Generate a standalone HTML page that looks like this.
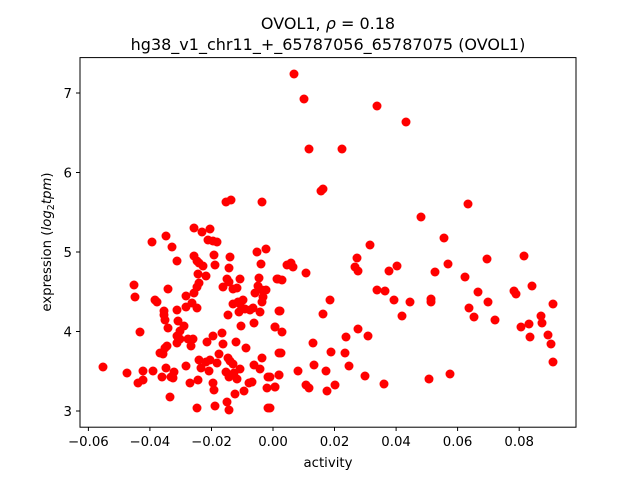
<!DOCTYPE html>
<html><head><style>body{margin:0;background:#fff}svg{display:block}text{font-family:"DejaVu Sans","Liberation Sans",sans-serif;fill:#000}</style></head><body>
<svg width="640" height="480" viewBox="0 0 640 480" xmlns="http://www.w3.org/2000/svg">
<rect width="640" height="480" fill="#fff"/>
<g fill="#f00">
<circle cx="294" cy="74" r="4.5"/><circle cx="304" cy="99" r="4.5"/><circle cx="377" cy="106" r="4.5"/><circle cx="406" cy="122" r="4.5"/><circle cx="309" cy="149" r="4.5"/><circle cx="342" cy="149" r="4.5"/><circle cx="321" cy="191" r="4.5"/><circle cx="323" cy="189" r="4.5"/><circle cx="468" cy="204" r="4.5"/><circle cx="421" cy="217" r="4.5"/><circle cx="444" cy="238" r="4.5"/><circle cx="370" cy="245" r="4.5"/><circle cx="357" cy="258" r="4.5"/><circle cx="355" cy="267" r="4.5"/><circle cx="358" cy="271" r="4.5"/><circle cx="287" cy="265" r="4.5"/><circle cx="291" cy="263" r="4.5"/><circle cx="293" cy="267" r="4.5"/><circle cx="306" cy="273" r="4.5"/><circle cx="389" cy="271" r="4.5"/><circle cx="397" cy="266" r="4.5"/><circle cx="435" cy="272" r="4.5"/><circle cx="448" cy="264" r="4.5"/><circle cx="487" cy="259" r="4.5"/><circle cx="524" cy="256" r="4.5"/><circle cx="465" cy="277" r="4.5"/><circle cx="278" cy="279" r="4.5"/><circle cx="282" cy="280" r="4.5"/><circle cx="377" cy="290" r="4.5"/><circle cx="385" cy="291" r="4.5"/><circle cx="478" cy="292" r="4.5"/><circle cx="514" cy="291" r="4.5"/><circle cx="516" cy="294" r="4.5"/><circle cx="532" cy="286" r="4.5"/><circle cx="394" cy="300" r="4.5"/><circle cx="410" cy="302" r="4.5"/><circle cx="431" cy="299" r="4.5"/><circle cx="431" cy="302" r="4.5"/><circle cx="330" cy="300" r="4.5"/><circle cx="323" cy="314" r="4.5"/><circle cx="280" cy="311" r="4.5"/><circle cx="402" cy="316" r="4.5"/><circle cx="488" cy="302" r="4.5"/><circle cx="469" cy="308" r="4.5"/><circle cx="474" cy="317" r="4.5"/><circle cx="495" cy="320" r="4.5"/><circle cx="553" cy="304" r="4.5"/><circle cx="541" cy="316" r="4.5"/><circle cx="542" cy="323" r="4.5"/><circle cx="521" cy="327" r="4.5"/><circle cx="529" cy="324" r="4.5"/><circle cx="530" cy="337" r="4.5"/><circle cx="548" cy="335" r="4.5"/><circle cx="551" cy="344" r="4.5"/><circle cx="553" cy="362" r="4.5"/><circle cx="275" cy="327" r="4.5"/><circle cx="282" cy="332" r="4.5"/><circle cx="358" cy="329" r="4.5"/><circle cx="368" cy="336" r="4.5"/><circle cx="346" cy="337" r="4.5"/><circle cx="313" cy="343" r="4.5"/><circle cx="281" cy="353" r="4.5"/><circle cx="331" cy="352" r="4.5"/><circle cx="345" cy="353" r="4.5"/><circle cx="349" cy="366" r="4.5"/><circle cx="314" cy="365" r="4.5"/><circle cx="298" cy="371" r="4.5"/><circle cx="326" cy="371" r="4.5"/><circle cx="279" cy="375" r="4.5"/><circle cx="270" cy="377" r="4.5"/><circle cx="365" cy="376" r="4.5"/><circle cx="306" cy="385" r="4.5"/><circle cx="309" cy="388" r="4.5"/><circle cx="335" cy="385" r="4.5"/><circle cx="327" cy="391" r="4.5"/><circle cx="384" cy="384" r="4.5"/><circle cx="275" cy="387" r="4.5"/><circle cx="429" cy="379" r="4.5"/><circle cx="450" cy="374" r="4.5"/><circle cx="270" cy="408" r="4.5"/>
<circle cx="103" cy="367" r="4.5"/><circle cx="127" cy="373" r="4.5"/><circle cx="143" cy="371" r="4.5"/><circle cx="143" cy="380" r="4.5"/><circle cx="138" cy="383" r="4.5"/><circle cx="153" cy="371" r="4.5"/><circle cx="140" cy="332" r="4.5"/><circle cx="135" cy="297" r="4.5"/><circle cx="134" cy="285" r="4.5"/><circle cx="152" cy="242" r="4.5"/><circle cx="166" cy="236" r="4.5"/><circle cx="172" cy="247" r="4.5"/><circle cx="177" cy="261" r="4.5"/><circle cx="168" cy="289" r="4.5"/><circle cx="155" cy="300" r="4.5"/><circle cx="157" cy="302" r="4.5"/><circle cx="164" cy="311" r="4.5"/><circle cx="164" cy="315" r="4.5"/><circle cx="165" cy="320" r="4.5"/><circle cx="168" cy="328" r="4.5"/><circle cx="177" cy="310" r="4.5"/><circle cx="178" cy="321" r="4.5"/><circle cx="184" cy="326" r="4.5"/><circle cx="180" cy="331" r="4.5"/><circle cx="177" cy="336" r="4.5"/><circle cx="177" cy="343" r="4.5"/><circle cx="180" cy="339" r="4.5"/><circle cx="167" cy="346" r="4.5"/><circle cx="165" cy="348" r="4.5"/><circle cx="160" cy="353" r="4.5"/><circle cx="163" cy="354" r="4.5"/><circle cx="186" cy="296" r="4.5"/><circle cx="186" cy="307" r="4.5"/><circle cx="192" cy="303" r="4.5"/><circle cx="194" cy="293" r="4.5"/><circle cx="197" cy="308" r="4.5"/><circle cx="188" cy="339" r="4.5"/><circle cx="193" cy="339" r="4.5"/><circle cx="191" cy="346" r="4.5"/><circle cx="166" cy="368" r="4.5"/><circle cx="162" cy="377" r="4.5"/><circle cx="171" cy="377" r="4.5"/><circle cx="174" cy="372" r="4.5"/><circle cx="173" cy="378" r="4.5"/><circle cx="170" cy="397" r="4.5"/><circle cx="186" cy="366" r="4.5"/><circle cx="190" cy="383" r="4.5"/><circle cx="198" cy="380" r="4.5"/><circle cx="197" cy="408" r="4.5"/><circle cx="194" cy="228" r="4.5"/><circle cx="202" cy="232" r="4.5"/><circle cx="210" cy="229" r="4.5"/><circle cx="208" cy="240" r="4.5"/><circle cx="213" cy="241" r="4.5"/><circle cx="217" cy="242" r="4.5"/><circle cx="194" cy="256" r="4.5"/><circle cx="197" cy="261" r="4.5"/><circle cx="199" cy="263" r="4.5"/><circle cx="203" cy="266" r="4.5"/><circle cx="198" cy="274" r="4.5"/><circle cx="206" cy="276" r="4.5"/><circle cx="199" cy="283" r="4.5"/><circle cx="197" cy="287" r="4.5"/><circle cx="214" cy="255" r="4.5"/><circle cx="215" cy="265" r="4.5"/><circle cx="226" cy="202" r="4.5"/><circle cx="231" cy="200" r="4.5"/><circle cx="262" cy="202" r="4.5"/><circle cx="230" cy="257" r="4.5"/><circle cx="229" cy="268" r="4.5"/><circle cx="227" cy="279" r="4.5"/><circle cx="229" cy="282" r="4.5"/><circle cx="223" cy="287" r="4.5"/><circle cx="233" cy="289" r="4.5"/><circle cx="237" cy="288" r="4.5"/><circle cx="240" cy="279" r="4.5"/><circle cx="257" cy="252" r="4.5"/><circle cx="266" cy="249" r="4.5"/><circle cx="261" cy="264" r="4.5"/><circle cx="259" cy="278" r="4.5"/><circle cx="258" cy="286" r="4.5"/><circle cx="262" cy="290" r="4.5"/><circle cx="266" cy="290" r="4.5"/><circle cx="255" cy="293" r="4.5"/><circle cx="263" cy="297" r="4.5"/><circle cx="262" cy="302" r="4.5"/><circle cx="233" cy="304" r="4.5"/><circle cx="238" cy="302" r="4.5"/><circle cx="243" cy="300" r="4.5"/><circle cx="240" cy="304" r="4.5"/><circle cx="239" cy="312" r="4.5"/><circle cx="245" cy="309" r="4.5"/><circle cx="250" cy="310" r="4.5"/><circle cx="253" cy="308" r="4.5"/><circle cx="260" cy="312" r="4.5"/><circle cx="228" cy="315" r="4.5"/><circle cx="241" cy="326" r="4.5"/><circle cx="254" cy="323" r="4.5"/><circle cx="222" cy="333" r="4.5"/><circle cx="213" cy="336" r="4.5"/><circle cx="207" cy="342" r="4.5"/><circle cx="223" cy="344" r="4.5"/><circle cx="236" cy="342" r="4.5"/><circle cx="246" cy="348" r="4.5"/><circle cx="219" cy="354" r="4.5"/><circle cx="199" cy="360" r="4.5"/><circle cx="201" cy="368" r="4.5"/><circle cx="206" cy="362" r="4.5"/><circle cx="210" cy="360" r="4.5"/><circle cx="209" cy="371" r="4.5"/><circle cx="217" cy="363" r="4.5"/><circle cx="228" cy="358" r="4.5"/><circle cx="230" cy="361" r="4.5"/><circle cx="233" cy="364" r="4.5"/><circle cx="234" cy="373" r="4.5"/><circle cx="240" cy="369" r="4.5"/><circle cx="226" cy="372" r="4.5"/><circle cx="229" cy="377" r="4.5"/><circle cx="237" cy="379" r="4.5"/><circle cx="213" cy="383" r="4.5"/><circle cx="214" cy="390" r="4.5"/><circle cx="244" cy="391" r="4.5"/><circle cx="235" cy="394" r="4.5"/><circle cx="249" cy="383" r="4.5"/><circle cx="252" cy="382" r="4.5"/><circle cx="254" cy="365" r="4.5"/><circle cx="262" cy="358" r="4.5"/><circle cx="260" cy="369" r="4.5"/><circle cx="268" cy="377" r="4.5"/><circle cx="267" cy="388" r="4.5"/><circle cx="275" cy="387" r="4.5"/><circle cx="275" cy="327" r="4.5"/><circle cx="279" cy="311" r="4.5"/><circle cx="277" cy="279" r="4.5"/><circle cx="279" cy="353" r="4.5"/><circle cx="279" cy="375" r="4.5"/><circle cx="227" cy="402" r="4.5"/><circle cx="229" cy="410" r="4.5"/><circle cx="215" cy="406" r="4.5"/><circle cx="268" cy="408" r="4.5"/>
</g>
<rect x="80" y="57.6" width="496" height="369.6" fill="none" stroke="#000" stroke-width="1"/>
<g stroke="#000" stroke-width="1">
<line x1="88.4" y1="427.2" x2="88.4" y2="431"/><line x1="149.9" y1="427.2" x2="149.9" y2="431"/><line x1="211.5" y1="427.2" x2="211.5" y2="431"/><line x1="273" y1="427.2" x2="273" y2="431"/><line x1="334.5" y1="427.2" x2="334.5" y2="431"/><line x1="396.1" y1="427.2" x2="396.1" y2="431"/><line x1="457.6" y1="427.2" x2="457.6" y2="431"/><line x1="519.2" y1="427.2" x2="519.2" y2="431"/>
<line x1="76" y1="411" x2="80" y2="411"/><line x1="76" y1="331.5" x2="80" y2="331.5"/><line x1="76" y1="252" x2="80" y2="252"/><line x1="76" y1="172.5" x2="80" y2="172.5"/><line x1="76" y1="93" x2="80" y2="93"/>
</g>
<g font-size="13.3" text-anchor="middle">
<text x="88.4" y="446">−0.06</text><text x="149.9" y="446">−0.04</text><text x="211.5" y="446">−0.02</text><text x="273" y="446">0.00</text><text x="334.5" y="446">0.02</text><text x="396.1" y="446">0.04</text><text x="457.6" y="446">0.06</text><text x="519.2" y="446">0.08</text>
<text x="328" y="467">activity</text>
</g>
<g font-size="13.3" text-anchor="end">
<text x="72" y="416">3</text><text x="72" y="336.5">4</text><text x="72" y="257">5</text><text x="72" y="177.5">6</text><text x="72" y="98">7</text>
</g>
<text font-size="13.3" text-anchor="middle" transform="translate(51,242) rotate(-90)">expression (<tspan font-style="italic">log</tspan><tspan font-size="9.5" dy="3">2</tspan><tspan font-style="italic" dy="-3">tpm</tspan>)</text>
<g font-size="16" text-anchor="middle">
<text x="328" y="29">OVOL1, <tspan font-style="italic">ρ</tspan> = 0.18</text>
<text x="328" y="50">hg38_v1_chr11_+_65787056_65787075 (OVOL1)</text>
</g>
</svg>
</body></html>
